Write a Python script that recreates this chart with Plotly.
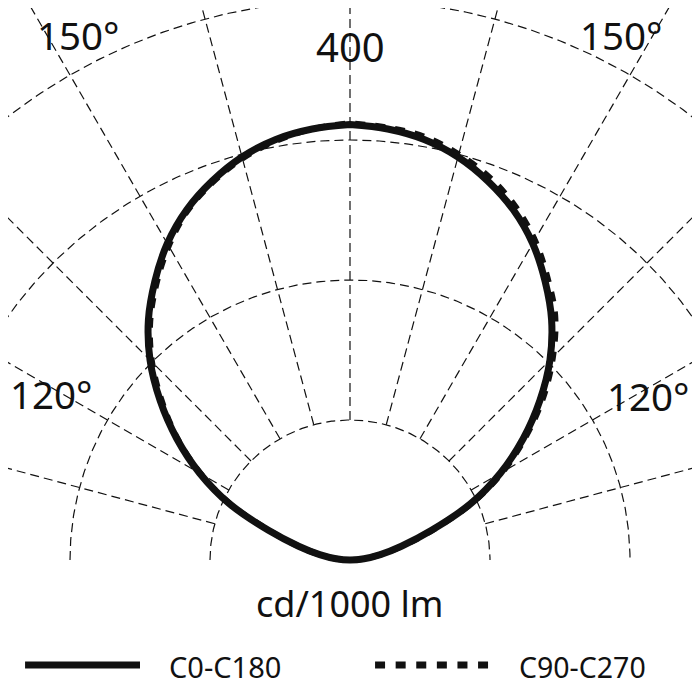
import numpy as np
import plotly.graph_objects as go

# Luminous intensity (cd/1000 lm) at gamma angles 90..180 deg
gamma = [90, 95, 100, 105, 110, 115, 120, 125, 130, 135, 140, 145, 150, 155, 160, 165, 170, 175, 180]
c0 =    [0, 10, 22, 38, 62, 95, 124, 151, 177, 202, 224, 243, 261, 276, 288, 298, 305, 309, 311]
c180 =  [0, 10, 22, 38, 62, 95, 124, 151, 177, 202, 224, 243, 261, 276, 288, 298, 305, 309, 311]
c90 =   [0, 10, 22, 39, 63, 96, 126, 153, 180, 205, 228, 246, 264, 279, 291, 300, 307, 310, 312]
c270 =  [0, 10, 22, 38, 61, 94, 123, 150, 175, 200, 222, 241, 259, 275, 287, 297, 304, 309, 312]

grid_radii = [100, 200, 300, 400]
radial_angles = [-75, -60, -45, -30, -15, 0, 15, 30, 45, 60, 75]
radial_inner = 100
radial_outer = 700

angle_labels = ["150°", "150°", "120°", "120°"]
radius_label = "400"
unit_label = "cd/1000 lm"
series_names = ["C0-C180", "C90-C270"]

FONT = "Noto Sans"
INK = "#111111"


def half_curve(g_list, r_list, side):
    phi = np.radians(180 - np.array(g_list, dtype=float))
    r = np.array(r_list, dtype=float)
    return side * r * np.sin(phi), r * np.cos(phi)


def full_curve(left_vals, right_vals):
    xl, yl = half_curve(gamma, left_vals, -1)
    xr, yr = half_curve(gamma, right_vals, 1)
    x = np.concatenate([xl, xr[::-1]])
    y = np.concatenate([yl, yr[::-1]])
    return x, y


fig = go.Figure()

grid_line = dict(color=INK, width=1.2, dash="9px,5px")

# grid circles (upper half)
t = np.radians(np.linspace(-90, 90, 361))
for rr in grid_radii:
    fig.add_trace(go.Scatter(x=rr * np.sin(t), y=rr * np.cos(t), mode="lines",
                             line=grid_line, hoverinfo="skip", showlegend=False))

# radial lines
for a in radial_angles:
    ar = np.radians(a)
    fig.add_trace(go.Scatter(x=[radial_inner * np.sin(ar), radial_outer * np.sin(ar)],
                             y=[radial_inner * np.cos(ar), radial_outer * np.cos(ar)],
                             mode="lines", line=grid_line, hoverinfo="skip", showlegend=False))

# C90-C270 dashed
x2, y2 = full_curve(c270, c90)
fig.add_trace(go.Scatter(x=x2, y=y2, mode="lines", name=series_names[1],
                         line=dict(color=INK, width=6, dash="10px,10px", shape="spline"),
                         showlegend=False))
# C0-C180 solid
x1, y1 = full_curve(c180, c0)
fig.add_trace(go.Scatter(x=x1, y=y1, mode="lines", name=series_names[0],
                         line=dict(color=INK, width=7, shape="spline"),
                         showlegend=False))

annotations = [
    dict(x=0, y=367, text=radius_label, font=dict(size=40)),
    dict(x=-193.6, y=375, text=angle_labels[0], font=dict(size=38.5)),
    dict(x=193.6, y=375, text=angle_labels[1], font=dict(size=38.5)),
    dict(x=-212.9, y=118.6, text=angle_labels[2], font=dict(size=38.5)),
    dict(x=212.9, y=117, text=angle_labels[3], font=dict(size=38.5)),
    dict(x=0, y=-31.4, text=unit_label, font=dict(size=36)),
    dict(x=-130.7, y=-76.4, text=series_names[0], xanchor="left", font=dict(size=29)),
    dict(x=119.3, y=-76.4, text=series_names[1], xanchor="left", font=dict(size=28.5)),
]
for an in annotations:
    an.setdefault("xanchor", "center")
    an["yanchor"] = "middle"
    an["showarrow"] = False
    an["xref"] = "x"
    an["yref"] = "y"
    an["font"].update(family=FONT, color=INK)

# legend swatches (data units: 1.4 px per unit)
shapes = [
    dict(type="line", xref="x", yref="y", x0=-232.1, x1=-150.0, y0=-75.0, y1=-75.0,
         line=dict(color=INK, width=7)),
    dict(type="line", xref="x", yref="y", x0=17.9, x1=98.6, y0=-75.0, y1=-75.0,
         line=dict(color=INK, width=7, dash="10px,10.6px")),
]

# page body has an 8px margin -> figure is 692x692 and ranges start 8px in
fig.update_layout(
    width=692, height=692,
    margin=dict(l=0, r=0, t=0, b=0),
    paper_bgcolor="white", plot_bgcolor="white",
    xaxis=dict(range=[(8 - 350) / 1.4, 250], visible=False, fixedrange=True),
    yaxis=dict(range=[-100, (560 - 8) / 1.4], visible=False, fixedrange=True),
    annotations=annotations,
    shapes=shapes,
    showlegend=False,
)

fig.write_html("out.html")
